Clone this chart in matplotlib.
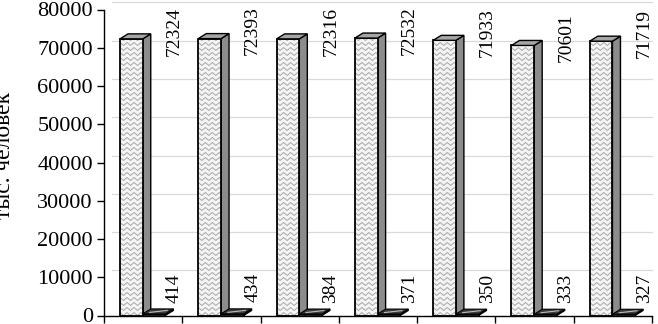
import numpy as np
import matplotlib.pyplot as plt
from matplotlib.patches import Polygon, Rectangle

FONT = 'Liberation Serif'
plt.rcParams['font.family'] = FONT

# data
big_vals = [72324, 72393, 72316, 72532, 71933, 70601, 71719]
small_vals = [414, 434, 384, 371, 350, 333, 327]
y_ticks = [0, 10000, 20000, 30000, 40000, 50000, 60000, 70000, 80000]
y_label = 'тыс. человек'

W, H = 658, 324
fig = plt.figure(figsize=(W / 100, H / 100), dpi=100)
ax_l, ax_b, ax_w, ax_h = 104, 8.5, 548, 306
ax = fig.add_axes([ax_l / W, ax_b / H, ax_w / W, ax_h / H])
n = len(big_vals)
ax.set_xlim(0, n)
ax.set_ylim(0, 80000)

# pixel -> data conversions
px_x = n / ax_w
px_y = 80000 / ax_h
dx, dy = 8 * px_x, 5 * px_y   # 3d depth

# back wall gridlines (shifted by depth)
for t in y_ticks[1:]:
    ax.plot([dx, n], [t + dy * 1.4, t + dy * 1.4], color='#d9d9d9', lw=0.9, zorder=0.5,
            clip_on=False)

bw = 0.29


def chevrons(x0, x1, y1, color, lw=0.7):
    period = 7 * px_x
    amp = 3 * px_y
    step = 5 * px_y
    xs = np.arange(x0 - period, x1 + period, period / 2)
    rect = Rectangle((x0, 0), x1 - x0, y1, transform=ax.transData)
    for yb in np.arange(-step, y1 + step, step):
        ys = yb + np.where(np.arange(len(xs)) % 2 == 0, amp, 0)
        ln, = ax.plot(xs, ys, color=color, lw=lw, zorder=2.1)
        ln.set_clip_path(rect)


for i, (v, s) in enumerate(zip(big_vals, small_vals)):
    x0 = i + 0.205
    x1 = x0 + bw
    x2 = x1 + bw
    # tall bar: side, front, top
    ax.add_patch(Polygon([(x1, 0), (x1 + dx, dy), (x1 + dx, v + dy), (x1, v)],
                         closed=True, fc='#8c8c8c', ec='black', lw=1.0, zorder=1.5))
    ax.bar(x0, v, width=bw, align='edge', color='#f4f4f4', edgecolor='none', zorder=2)
    chevrons(x0, x1, v, '#a8a8a8')
    ax.bar(x0, v, width=bw, align='edge', fill=False, edgecolor='black', lw=1.3, zorder=2.5)
    ax.add_patch(Polygon([(x0, v), (x1, v), (x1 + dx, v + dy), (x0 + dx, v + dy)],
                         closed=True, fc='#a6a6a6', ec='black', lw=1.0, zorder=2.5))
    # small bar
    ax.add_patch(Polygon([(x2, 0), (x2 + dx, dy), (x2 + dx, s + dy), (x2, s)],
                         closed=True, fc='#202020', ec='black', lw=0.8, zorder=3))
    ax.bar(x1, s, width=bw, align='edge', color='#202020', edgecolor='black',
           lw=0.8, zorder=3)
    ax.add_patch(Polygon([(x1, s), (x2, s), (x2 + dx, s + dy), (x1 + dx, s + dy)],
                         closed=True, fc='#3a3a3a', ec='black', lw=0.8, zorder=3.2))
    ax.plot([x1 + 0.3 * bw, x2 - 0.1 * bw + dx * 0.5], [s + dy * 0.3, s + dy * 0.7],
            color='#bbbbbb', lw=0.8, zorder=3.3)
    # labels
    ax.text(i + 0.9, v + 2000, str(v), rotation=90, ha='center', va='center',
            fontsize=14, family=FONT, zorder=4, clip_on=False)
    ax.text(i + 0.9, s + 6800, str(s), rotation=90, ha='center', va='center',
            fontsize=14, family=FONT, zorder=4)

ax.set_yticks(y_ticks)
ax.set_yticklabels([str(t) for t in y_ticks], fontsize=16, family=FONT)
ax.set_xticks(np.arange(0, n + 1))
ax.set_xticklabels([])
ax.tick_params(axis='both', direction='out', length=5, width=1, color='black', pad=3)
for side in ['top', 'right']:
    ax.spines[side].set_visible(False)
for side in ['left', 'bottom']:
    ax.spines[side].set_linewidth(1.0)

fig.text(15 / W, 1 - 155 / H, y_label, rotation=90, ha='right', va='center',
         fontsize=17, family=FONT)

fig.savefig('out.png', dpi=100)
